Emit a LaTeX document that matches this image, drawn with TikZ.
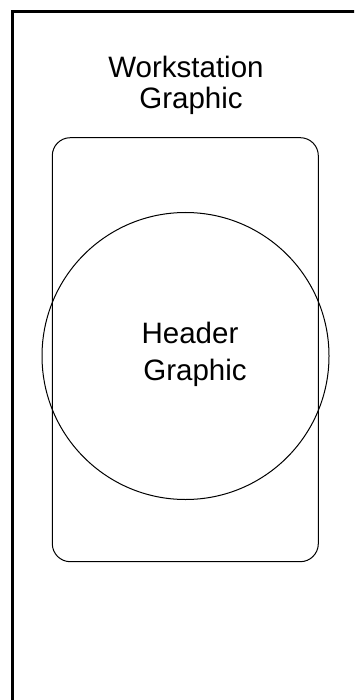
\documentclass[tikz,border=0pt]{standalone}
\usepackage{fontspec}
\setmainfont{Liberation Sans}
\begin{document}
\begin{tikzpicture}[x=1pt,y=-1pt,
  lbl/.style={inner sep=0pt,anchor=base,font=\fontsize{29.5}{35}\selectfont},
  thin line/.style={line width=1pt,draw=black}]
\useasboundingbox (0,0) rectangle (354,700);
\fill[white] (0,0) rectangle (354,700);
\begin{scope}
\clip (0,0) rectangle (354,700);
\draw[line width=3pt] (12.5,11.5) rectangle (420,760);
\end{scope}
\draw[thin line,rounded corners=18pt] (52.3,137.7) rectangle (318.3,561.7);
\node[thin line,circle,minimum size=287pt,inner sep=0pt] (hdr) at (185.5,356) {};
\node[lbl] (ws1) at (186,77.3) {Workstation};
\node[lbl] (ws2) at (191,108.3) {Graphic};
\node[lbl] (h1) at (190,343.3) {Header};
\node[lbl] (h2) at (195,380) {Graphic};
\end{tikzpicture}
\end{document}
